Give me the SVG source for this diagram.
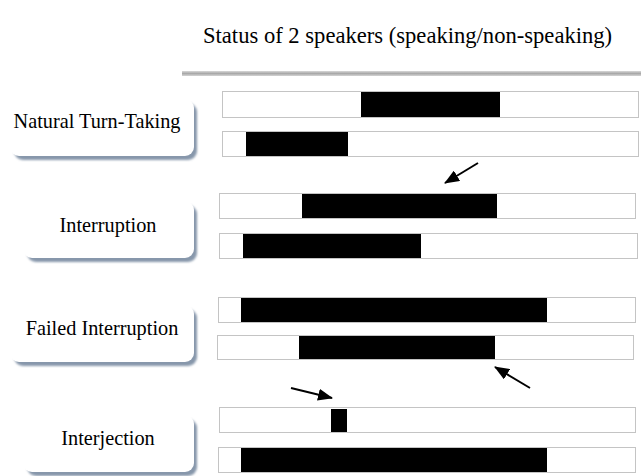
<svg xmlns="http://www.w3.org/2000/svg" width="641" height="476" viewBox="0 0 641 476">
<style>
  .lbl{font-family:"Liberation Serif","Times New Roman",serif;font-size:20.3px;fill:#000;text-anchor:middle}
  .title{font-family:"Liberation Serif","Times New Roman",serif;font-size:22.6px;fill:#000}
  .bar{fill:#fff;stroke:#c4c4c4;stroke-width:1}
  .on{fill:#000}
  .box{fill:#fff}
  .shadow{fill:#8797ab;filter:url(#blur)}
  .arr{stroke:#000;stroke-width:2;fill:none;marker-end:url(#ah)}
</style>
<defs>
  <filter id="blur" x="-10%" y="-10%" width="120%" height="130%"><feGaussianBlur stdDeviation="1"/></filter>
  <linearGradient id="lineg" x1="0" y1="0" x2="0" y2="1">
    <stop offset="0" stop-color="#d8d8d8"/>
    <stop offset="0.5" stop-color="#a9a9a9"/>
    <stop offset="1" stop-color="#d4d4d4"/>
  </linearGradient>
  <marker id="ah" markerWidth="15" markerHeight="12" refX="14" refY="6" orient="auto" markerUnits="userSpaceOnUse" viewBox="0 0 15 12">
    <path d="M0,0 L15,6 L0,12 z" fill="#000"/>
  </marker>
</defs>
<rect width="641" height="476" fill="#fff"/>
<text class="title" x="203" y="43">Status of 2 speakers (speaking/non-speaking)</text>
<rect x="182" y="71" width="459" height="5" fill="url(#lineg)"/>

<g id="natural">
  <rect class="shadow" x="14" y="103" width="183" height="57" rx="9"/>
  <rect class="box" x="10" y="99" width="184" height="57" rx="9"/>
  <text class="lbl" x="97" y="128">Natural Turn-Taking</text>
</g>
<g id="interruption">
  <rect class="shadow" x="27" y="205" width="170" height="57" rx="9"/>
  <rect class="box" x="23" y="201" width="171" height="57" rx="9"/>
  <text class="lbl" x="108" y="232">Interruption</text>
</g>
<g id="failed">
  <rect class="shadow" x="14" y="309" width="183" height="57" rx="9"/>
  <rect class="box" x="10" y="305" width="184" height="57" rx="9"/>
  <text class="lbl" x="102" y="335">Failed Interruption</text>
</g>
<g id="interjection">
  <rect class="shadow" x="27" y="419" width="170" height="57" rx="9"/>
  <rect class="box" x="23" y="415" width="171" height="57" rx="9"/>
  <text class="lbl" x="108" y="445">Interjection</text>
</g>

<g id="bars-natural">
  <rect class="bar" x="222.5" y="91.5" width="416" height="26"/>
  <rect class="on" x="361" y="92" width="139" height="25"/>
  <rect class="bar" x="222.5" y="131.5" width="416" height="25"/>
  <rect class="on" x="246" y="132" width="102" height="24"/>
</g>
<g id="bars-interruption">
  <rect class="bar" x="219.5" y="193.5" width="416" height="25"/>
  <rect class="on" x="302" y="194" width="195" height="24"/>
  <rect class="bar" x="219.5" y="233.5" width="418" height="25"/>
  <rect class="on" x="243" y="234" width="178" height="24"/>
</g>
<g id="bars-failed">
  <rect class="bar" x="218.5" y="297.5" width="417" height="25"/>
  <rect class="on" x="241" y="298" width="306" height="24"/>
  <rect class="bar" x="217.5" y="335.5" width="416" height="24"/>
  <rect class="on" x="299" y="336" width="196" height="23"/>
</g>
<g id="bars-interjection">
  <rect class="bar" x="219.5" y="407.5" width="416" height="25"/>
  <rect class="on" x="331" y="409" width="16" height="23"/>
  <rect class="bar" x="218.5" y="447.5" width="417" height="25"/>
  <rect class="on" x="241" y="448" width="306" height="24"/>
</g>

<g id="connectors">
  <line class="arr" x1="478" y1="163" x2="445" y2="183"/>
  <line class="arr" x1="530" y1="388" x2="495" y2="367"/>
  <line class="arr" x1="291" y1="388" x2="332" y2="398"/>
</g>
</svg>
